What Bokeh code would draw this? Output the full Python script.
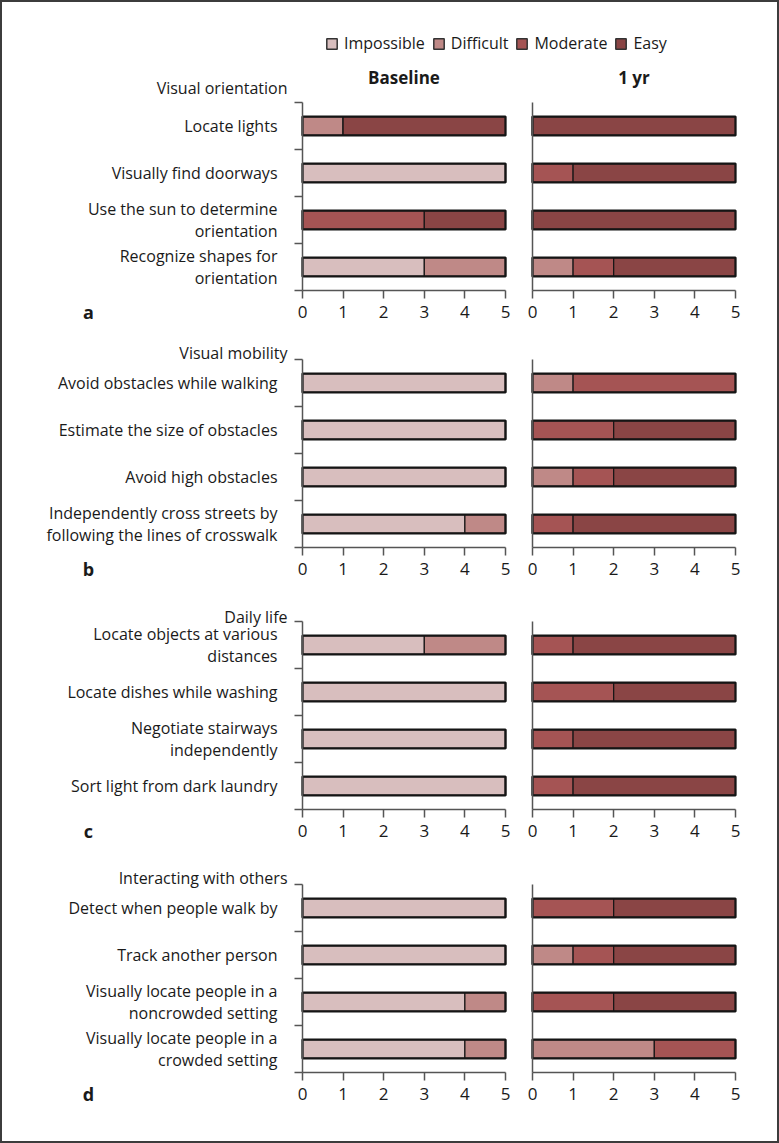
from bokeh.plotting import figure
from bokeh.models import Range1d, FixedTicker, ColumnDataSource, Legend, LegendItem
from bokeh.layouts import column, row
from bokeh.embed import file_html
from bokeh.resources import INLINE
from bokeh.core.properties import value

FONT = "Open Sans"

levels = ["Impossible", "Difficult", "Moderate", "Easy"]
colors = ["#d8bebe", "#bf8987", "#a55454", "#8a4545"]

panel_titles = ["Visual orientation", "Visual mobility", "Daily life", "Interacting with others"]
panel_letters = ["a", "b", "c", "d"]
time_titles = ["Baseline", "1 yr"]
x_ticks = [0, 1, 2, 3, 4, 5]

a_items = ["Locate lights", "Visually find doorways",
           "Use the sun to determine\norientation", "Recognize shapes for\norientation"]
# per item: Impossible, Difficult, Moderate, Easy
a_base = [[0, 1, 0, 4], [5, 0, 0, 0], [0, 0, 3, 2], [3, 2, 0, 0]]
a_1yr = [[0, 0, 0, 5], [0, 0, 1, 4], [0, 0, 0, 5], [0, 1, 1, 3]]

b_items = ["Avoid obstacles while walking", "Estimate the size of obstacles",
           "Avoid high obstacles", "Independently cross streets by\nfollowing the lines of crosswalk"]
b_base = [[5, 0, 0, 0], [5, 0, 0, 0], [5, 0, 0, 0], [4, 1, 0, 0]]
b_1yr = [[0, 1, 4, 0], [0, 0, 2, 3], [0, 1, 1, 3], [0, 0, 1, 4]]

c_items = ["Locate objects at various\ndistances", "Locate dishes while washing",
           "Negotiate stairways\nindependently", "Sort light from dark laundry"]
c_base = [[3, 2, 0, 0], [5, 0, 0, 0], [5, 0, 0, 0], [5, 0, 0, 0]]
c_1yr = [[0, 0, 1, 4], [0, 0, 2, 3], [0, 0, 1, 4], [0, 0, 1, 4]]

d_items = ["Detect when people walk by", "Track another person",
           "Visually locate people in a\nnoncrowded setting", "Visually locate people in a\ncrowded setting"]
d_base = [[5, 0, 0, 0], [5, 0, 0, 0], [4, 1, 0, 0], [4, 1, 0, 0]]
d_1yr = [[0, 0, 2, 3], [0, 1, 1, 3], [0, 0, 2, 3], [0, 3, 2, 0]]

panels = [
    (a_items, a_base, a_1yr),
    (b_items, b_base, b_1yr),
    (c_items, c_base, c_1yr),
    (d_items, d_base, d_1yr),
]

# ---- layout geometry (pixels) ----
PAGE_W = 779
HEADER_H = 62
LEFT_W = 518
LEFT_FRAME_X = 302          # x=0 of the baseline panel
RIGHT_FRAME_X = 14          # x=0 of the 1-yr panel, inside its figure
PX_X = 203 / 5              # pixels per unit along x
PX_Y = 47                   # pixels per category band
row_heights = [268, 266, 264, 283]
row_tops = [40, 29, 25, 24]     # pixels from row top to the upper end of the axis
title_offsets = [15, 7, 5, 7]

AXIS_COLOR = "#555555"
TEXT_COLOR = "#1a1a1a"
EDGE = "#151515"


def make_panel(items, counts, left, idx):
    n = len(items)
    H = row_heights[idx]
    top = row_tops[idx]
    W = LEFT_W if left else PAGE_W - LEFT_W
    x0 = LEFT_FRAME_X if left else RIGHT_FRAME_X
    xr = Range1d(-x0 / PX_X, (W - x0) / PX_X)
    yr = Range1d(n - (H - top) / PX_Y, n + top / PX_Y)
    p = figure(width=W, height=H, x_range=xr, y_range=yr,
               output_backend="svg", toolbar_location=None, min_border=0)
    p.outline_line_color = None
    p.background_fill_color = None
    p.border_fill_color = None
    p.grid.visible = False

    ys = [n - i - 0.5 for i in range(n)]
    data = {"y": ys}
    for j, lev in enumerate(levels):
        data[lev] = [c[j] for c in counts]
    data["total"] = [sum(c) for c in counts]
    src = ColumnDataSource(data)
    p.hbar_stack(levels, y="y", height=0.4, color=colors, line_color=EDGE,
                 line_width=1.2, source=src)
    p.hbar(y="y", left=0, right="total", height=0.4, fill_color=None,
           line_color=EDGE, line_width=2.2, source=src)

    xa = p.xaxis[0]
    xa.fixed_location = 0
    xa.bounds = (x_ticks[0], x_ticks[-1])
    xa.ticker = FixedTicker(ticks=x_ticks, minor_ticks=[])
    xa.axis_line_color = AXIS_COLOR
    xa.axis_line_width = 1.5
    xa.major_tick_line_color = AXIS_COLOR
    xa.major_tick_line_width = 1.5
    xa.major_tick_out = 8
    xa.major_tick_in = 0
    xa.minor_tick_line_color = None
    xa.major_label_standoff = 7
    xa.major_label_text_font = FONT
    xa.major_label_text_font_size = "17px"
    xa.major_label_text_color = TEXT_COLOR

    ya = p.yaxis[0]
    ya.fixed_location = 0
    ya.bounds = (0, n)
    ya.axis_line_color = AXIS_COLOR
    ya.axis_line_width = 1.5
    if left:
        ya.ticker = FixedTicker(ticks=ys, minor_ticks=list(range(n + 1)))
        ya.major_label_overrides = {y: t for y, t in zip(ys, items)}
        ya.major_tick_line_color = None
        ya.major_tick_out = 0
        ya.major_tick_in = 0
        ya.minor_tick_line_color = AXIS_COLOR
        ya.minor_tick_line_width = 1.5
        ya.minor_tick_out = 8
        ya.minor_tick_in = 0
        ya.major_label_standoff = 17
        ya.major_label_text_font = FONT
        ya.major_label_text_font_size = "16px"
        ya.major_label_text_color = TEXT_COLOR
        ya.major_label_text_line_height = 1.0
        # group title, right-aligned just above the axis top
        p.text(x=[0], y=[n], text=[panel_titles[idx]], x_offset=-15,
               y_offset=-title_offsets[idx], text_align="right",
               text_baseline="middle", text_font=value(FONT),
               text_font_size="16px", text_color=TEXT_COLOR)
        # panel letter
        p.text(x=[0], y=[0], text=[panel_letters[idx]], x_offset=88 - LEFT_FRAME_X,
               y_offset=21, text_align="center", text_baseline="middle",
               text_font=value(FONT), text_font_style="bold",
               text_font_size="18px", text_color=TEXT_COLOR)
    else:
        ya.ticker = FixedTicker(ticks=[], minor_ticks=[])
        ya.major_tick_line_color = None
        ya.minor_tick_line_color = None
    if idx == 0:
        p.text(x=[(x_ticks[0] + x_ticks[-1]) / 2], y=[n],
               text=[time_titles[0 if left else 1]], y_offset=-25,
               text_align="center", text_baseline="middle",
               text_font=value(FONT), text_font_style="bold",
               text_font_size="17px", text_color=TEXT_COLOR)
    return p


# header with legend
hdr = figure(width=PAGE_W, height=HEADER_H, x_range=Range1d(0, 1), y_range=Range1d(0, 1),
             output_backend="svg", toolbar_location=None, min_border=0,
             x_axis_type=None, y_axis_type=None)
hdr.outline_line_color = None
hdr.background_fill_color = None
hdr.border_fill_color = None
hdr.grid.visible = False
legend_items = []
for lev, col in zip(levels, colors):
    # a row with no y position: nothing is drawn, only the legend swatch
    r = hdr.hbar(y=[float("nan")], left=[0], right=[1], height=0.5, fill_color=col,
                 line_color="#333333", line_width=1.5)
    legend_items.append(LegendItem(label=lev, renderers=[r]))
legend = Legend(items=legend_items, orientation="horizontal", location=(325, 8),
                border_line_color=None, background_fill_alpha=0, padding=0, margin=0,
                spacing=7, label_standoff=6, glyph_width=13, glyph_height=13,
                label_text_font=FONT, label_text_font_size="16px",
                label_text_color=TEXT_COLOR)
hdr.add_layout(legend, "center")

rows = [hdr]
for idx, (items, base, yr1) in enumerate(panels):
    pl = make_panel(items, base, True, idx)
    pr = make_panel(items, yr1, False, idx)
    rows.append(row(pl, pr))

layout = column(*rows, styles={"outline": "2px solid #3c3c3c", "outline-offset": "-2px"})

open("out.html", "w").write(file_html(layout, INLINE))
